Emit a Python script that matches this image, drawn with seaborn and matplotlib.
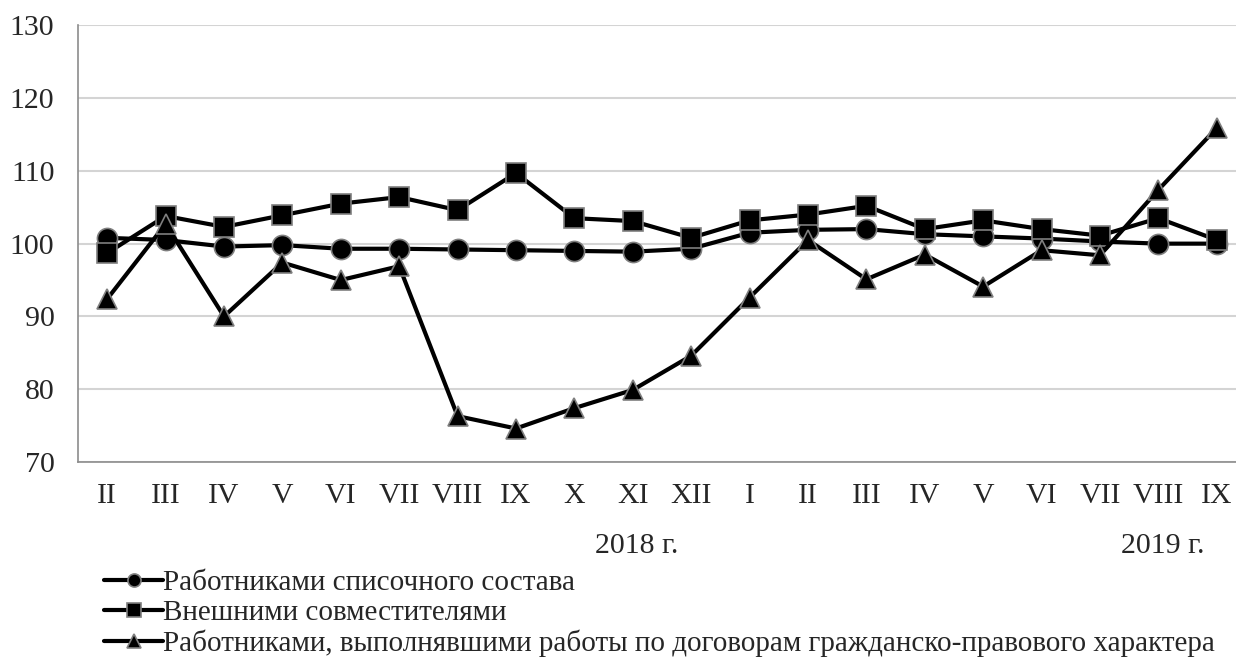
import numpy as np
import pandas as pd
import matplotlib
matplotlib.use('Agg')
import matplotlib.pyplot as plt
import matplotlib.transforms as mtransforms
import seaborn as sns

# месяцы (II.2018 - IX.2019)
months = ["II", "III", "IV", "V", "VI", "VII", "VIII", "IX", "X", "XI", "XII",
          "I", "II", "III", "IV", "V", "VI", "VII", "VIII", "IX"]
year_labels = ["2018 г.", "2019 г."]
year_at = [9, 18]  # под какими месяцами подписан год

staff = [100.8, 100.5, 99.6, 99.8, 99.3, 99.3, 99.2, 99.1, 99.0, 98.9, 99.3,
         101.5, 101.9, 102.0, 101.3, 101.0, 100.7, 100.3, 100.0, 100.0]
external = [98.7, 103.8, 102.3, 103.9, 105.5, 106.4, 104.6, 109.7, 103.5, 103.1, 100.8,
            103.2, 104.0, 105.2, 102.0, 103.2, 102.0, 101.1, 103.5, 100.5]
contract = [92.4, 102.7, 90.0, 97.4, 95.0, 96.9, 76.3, 74.6, 77.4, 79.9, 84.6,
            92.6, 100.5, 95.1, 98.5, 94.1, 99.1, 98.4, 107.4, 115.9]

names = ["Работниками списочного состава",
         "Внешними совместителями",
         "Работниками, выполнявшими работы по договорам гражданско-правового характера"]

pos = np.arange(len(months))
df = pd.concat([
    pd.DataFrame({"pos": pos, "value": staff, "series": names[0]}),
    pd.DataFrame({"pos": pos, "value": external, "series": names[1]}),
    pd.DataFrame({"pos": pos, "value": contract, "series": names[2]}),
])

sns.set_style("white")
plt.rcParams['font.family'] = ['Liberation Serif', 'DejaVu Serif']
fs = 21.5

fig = plt.figure(figsize=(12.36, 6.63), dpi=100)
ax = fig.add_axes([0.0631, 0.3032, 0.945, 0.6586])

sns.lineplot(data=df, x="pos", y="value", hue="series", style="series",
             markers=["o", "s", "^"], dashes=False, palette=["black"] * 3,
             linewidth=3, markersize=14.5, markeredgecolor="#7f7f7f",
             markeredgewidth=1.2, ax=ax)

ax.set_xlim(-0.5, len(months) - 0.5)
ax.set_ylim(70, 130)
ax.set_yticks(np.arange(70, 131, 10))
ax.yaxis.grid(True, color="#d4d4d4", linewidth=1.5)
ax.set_axisbelow(True)
for s in ["top", "right"]:
    ax.spines[s].set_visible(False)
for s in ["left", "bottom"]:
    ax.spines[s].set_color("#8c8c8c")
    ax.spines[s].set_linewidth(1.2)

# подписи месяцев, засечки между категориями
ax.set_xticks(np.arange(-0.5, len(months), 1.0))
ax.set_xticklabels([])
ax.tick_params(axis="x", direction="out", length=9, color="#8c8c8c", width=1.2)
ax.tick_params(axis="y", direction="out", length=9, color="#8c8c8c", width=1.2,
               labelsize=fs, pad=8)
ax.set_xlabel("")
ax.set_ylabel("")

trans = mtransforms.blended_transform_factory(ax.transData, ax.transAxes)
for i, m in enumerate(months):
    ax.text(i, -0.077, m, transform=trans, ha="center", va="center", fontsize=fs)
for lab, i in zip(year_labels, year_at):
    ax.text(i + 0.07, -0.193, lab, transform=trans, ha="center", va="center", fontsize=fs)

handles, labels = ax.get_legend_handles_labels()
ax.get_legend().remove()
fig.legend(handles, labels, loc="upper left", bbox_to_anchor=(0.075, 0.158),
           frameon=False, fontsize=21, markerscale=0.65, handlelength=2.0,
           handletextpad=0.0, labelspacing=0.12, borderaxespad=0)

fig.savefig("out.png", dpi=100)
